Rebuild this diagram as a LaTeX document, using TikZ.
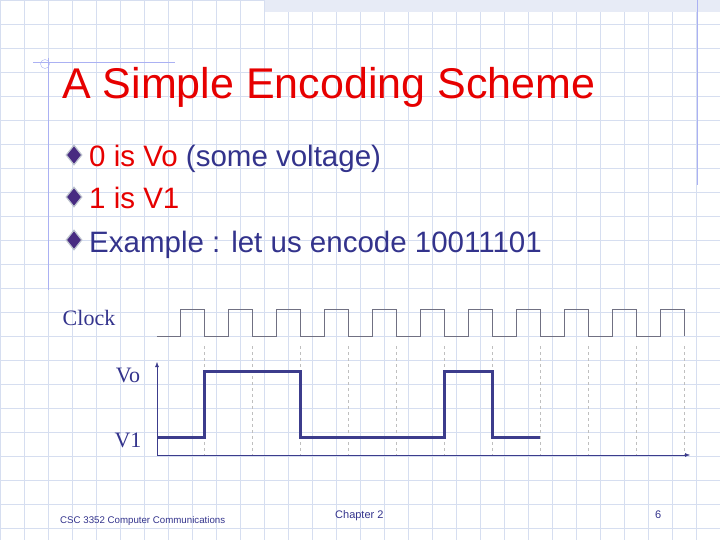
\documentclass[tikz,border=0pt]{standalone}
\usepackage{fontspec}
\setmainfont{Liberation Sans}
\newfontfamily\serifft{Liberation Serif}
\usetikzlibrary{shapes.geometric,arrows.meta}
\definecolor{titlered}{RGB}{230,0,0}
\definecolor{navy}{RGB}{51,51,140}
\definecolor{gridblue}{RGB}{214,222,240}
\definecolor{wave}{RGB}{60,60,140}
\tikzstyle{bullet} = [draw=gridblue!70!gray,fill=navy!85!purple,diamond,inner sep=0pt,minimum width=16pt,minimum height=20pt,line width=1.2pt]
\tikzstyle{item} = [anchor=base west,inner sep=0pt,font=\fontsize{29.5}{32}\selectfont,text=navy]
\tikzstyle{lbl} = [font=\serifft\fontsize{22}{24}\selectfont,text=navy,inner sep=0pt]
\tikzstyle{foot} = [inner sep=0pt,text=navy,anchor=base west]
\tikzstyle{guide} = [draw=gray!50,dashed,thin]
\begin{document}
\begin{tikzpicture}[x=1pt,y=-1pt]
    \useasboundingbox (0,0) rectangle (720,540);
    \draw [step=24pt,gridblue,thin] (0,0) grid (720,540);
    \fill [gridblue!60] (265,0) rectangle (720,12);
    \draw [gridblue!80!blue,thin] (697,0) -- (697,185);
    \draw [gridblue!80!blue,thin] (48,58) -- (48,290);
    \draw [gridblue!80!blue,thin] (33,62) -- (175,62);
    \draw [gridblue!80!blue,thin] (45,64) circle (4.5pt);

    \node [anchor=base west,inner sep=0pt,text=titlered,font=\fontsize{43}{46}\selectfont] (title) at (62,99) {A Simple Encoding Scheme};

    \node [style=bullet] (b1) at (74,155) {};
    \node [style=bullet] (b2) at (74,197) {};
    \node [style=bullet] (b3) at (74,240) {};
    \node [style=item] (t1) at (89,167) {\textcolor{titlered}{0 is Vo} (some voltage)};
    \node [style=item] (t2) at (89,209) {\textcolor{titlered}{1 is V1}};
    \node [style=item] (t3) at (89,252) {Example : let us encode 10011101};

    \node [style=lbl] (clk) at (89,318) {Clock};
    \node [style=lbl] (vo) at (128,375) {Vo};
    \node [style=lbl] (vone) at (128,440) {V1};

    % clock guides
    \foreach \x in {204,252,...,684}
        \draw [style=guide] (\x,346) -- (\x,455);

    % clock
    \draw [gray!80!navy,thin] (157,336) \foreach \x in {180,228,...,660} { -- (\x,336) -- (\x,309) -- ({\x+24},309) -- ({\x+24},336) };

    % axes
    \coordinate (o) at (157,455);
    \coordinate (ytop) at (157,362);
    \coordinate (xend) at (690,455);
    \draw [wave,-{Latex[length=5pt]}] (o) -- (ytop);
    \draw [wave,-{Latex[length=5pt]}] (o) -- (xend);

    % data 10011101
    \draw [wave,line width=3pt] (157,437) -- (204,437) -- (204,371) -- (300,371) -- (300,437)
        -- (444,437) -- (444,371) -- (492,371) -- (492,437) -- (540,437);

    \node [style=foot,font=\fontsize{9.7}{10}\selectfont] (f1) at (60,523) {CSC 3352 Computer Communications};
    \node [style=foot,font=\fontsize{11}{12}\selectfont] (f2) at (335,518) {Chapter 2};
    \node [style=foot,font=\fontsize{11}{12}\selectfont] (f3) at (655,518) {6};
\end{tikzpicture}
\end{document}
